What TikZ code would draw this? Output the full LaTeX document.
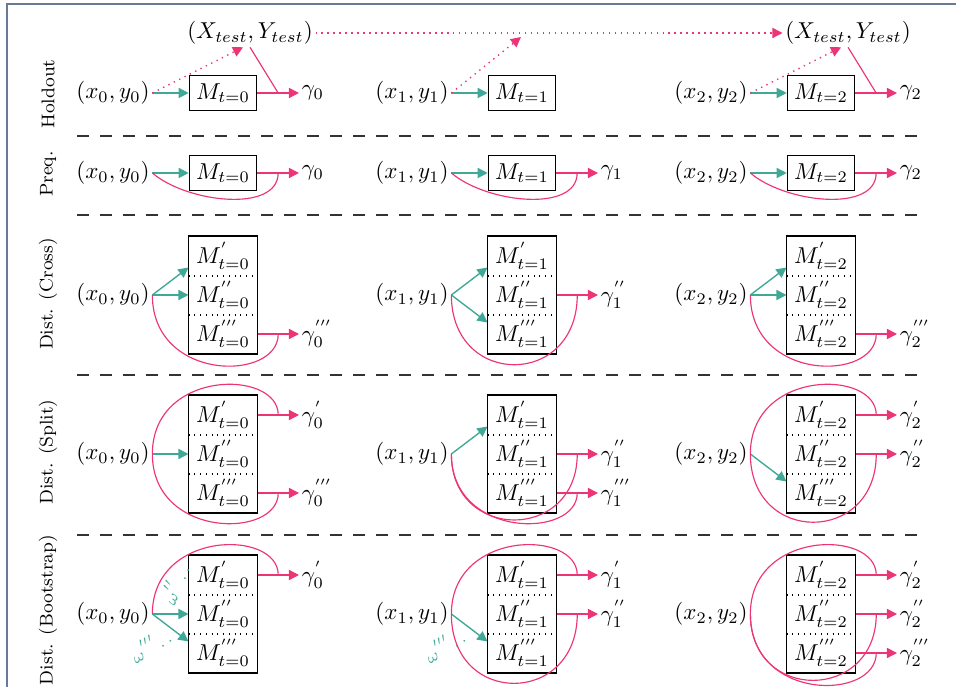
\documentclass[tikz,border=0pt]{standalone}
\usetikzlibrary{arrows.meta,calc}
\definecolor{sampleTeal}{RGB}{64,168,150}
\definecolor{evalPink}{RGB}{236,52,118}
\definecolor{frameSlate}{RGB}{104,122,148}
\tikzset{
  inp/.style={inner sep=1pt},
  mbox/.style={draw, line width=0.5pt, minimum width=1.03cm, minimum height=0.535cm, inner sep=0pt},
  cell/.style={minimum width=1.04cm, minimum height=0.596cm, inner sep=0pt},
  gam/.style={anchor=west, inner sep=1pt},
  feed/.style={-{Triangle[length=4.4pt,width=4.4pt]}, line width=0.6pt, draw=sampleTeal},
  outarr/.style={-{Triangle[length=4.4pt,width=4.4pt]}, line width=0.6pt, draw=evalPink},
  loopc/.style={line width=0.5pt, draw=evalPink},
  testdot/.style={-{Triangle[length=4.4pt,width=4.4pt]}, dotted, line width=0.6pt, draw=evalPink},
  celldiv/.style={dotted, line width=0.5pt},
  rowsep/.style={dash pattern=on 5pt off 5pt, line width=0.7pt, draw=black!80},
  rowlab/.style={rotate=90, font=\footnotesize},
  wlab/.style={text=sampleTeal, font=\scriptsize, inner sep=0pt}
}
\begin{document}
\begin{tikzpicture}[x=0.01528cm,y=-0.01528cm]
  \useasboundingbox (0,0) rectangle (956,687);
  \draw[frameSlate, line width=1.2pt] (7,4) rectangle (1000,730);

  % row labels and separators
  \node[rowlab] (lab-ho) at (48,94) {Holdout};
  \node[rowlab] (lab-pq) at (48,174) {Preq.};
  \node[rowlab] (lab-cr) at (48,294) {Dist. (Cross)};
  \node[rowlab] (lab-sp) at (48,452) {Dist. (Split)};
  \node[rowlab] (lab-bs) at (48,610) {Dist. (Bootstrap)};
  \foreach \y in {136,215,375,535}
    \draw[rowsep] (77,\y) -- (925,\y);

  % holdout and prequential rows
  \foreach \i in {0,1,2} {
    \node[inp] (ho-in\i) at (113+299*\i,93) {$(x_\i, y_\i)$};
    \node[mbox] (ho-m\i) at (223+299*\i,93) {$M_{t=\i}$};
    \draw[feed] (ho-in\i.east) -- (ho-m\i.west);
    \node[inp] (pq-in\i) at (113+299*\i,173) {$(x_\i, y_\i)$};
    \node[mbox] (pq-m\i) at (223+299*\i,173) {$M_{t=\i}$};
    \node[gam] (pq-g\i) at (299+299*\i,173) {$\gamma_\i$};
    \draw[feed] (pq-in\i.east) -- (pq-m\i.west);
    \draw[outarr] (pq-m\i.east) -- coordinate (pq-j\i) (pq-g\i.west);
    \draw[loopc] (pq-in\i.east) .. controls +(35,30) and +(0,40) .. (pq-j\i);
  }
  \node[gam] (ho-g0) at (299,93) {$\gamma_0$};
  \node[gam] (ho-g2) at (897,93) {$\gamma_2$};
  \draw[outarr] (ho-m0.east) -- coordinate (ho-j0) (ho-g0.west);
  \draw[outarr] (ho-m2.east) -- coordinate (ho-j2) (ho-g2.west);
  \node[inp] (ho-t0) at (250,33) {$(X_{test}, Y_{test})$};
  \node[inp] (ho-t2) at (848,33) {$(X_{test}, Y_{test})$};
  \coordinate (ho-hit) at (521,37);
  \draw[testdot] (ho-t0.east) -- (ho-t2.west);
  \draw[testdot] (ho-in0.east) -- ([xshift=-3pt]ho-t0.south);
  \draw[testdot] (ho-in1.east) -- (ho-hit);
  \draw[testdot] (ho-in2.east) -- ([xshift=-3pt]ho-t2.south);
  \draw[loopc] (ho-t0.south) -- (ho-j0);
  \draw[loopc] (ho-t2.south) -- (ho-j2);

  % distributed rows: three sub-models per step
  \foreach \r/\y in {cr/295, sp/454, bs/614} {
    \foreach \i in {0,1,2} {
      \node[inp] (\r-in\i) at (113+299*\i,\y) {$(x_\i, y_\i)$};
      \node[cell] (\r-m\i-1) at (223+299*\i,\y-39) {$M^{'}_{t=\i}$};
      \node[cell] (\r-m\i-2) at (223+299*\i,\y) {$M^{''}_{t=\i}$};
      \node[cell] (\r-m\i-3) at (223+299*\i,\y+39) {$M^{'''}_{t=\i}$};
      \draw[line width=0.5pt] (\r-m\i-1.north west) rectangle (\r-m\i-3.south east);
      \draw[celldiv] (\r-m\i-1.south west) -- (\r-m\i-1.south east);
      \draw[celldiv] (\r-m\i-2.south west) -- (\r-m\i-2.south east);
    }
  }

  % cross
  \node[gam] (cr-g0-3) at (299,334) {$\gamma^{'''}_0$};
  \node[gam] (cr-g1-2) at (598,295) {$\gamma^{''}_1$};
  \node[gam] (cr-g2-3) at (897,334) {$\gamma^{'''}_2$};
  \draw[feed] (cr-in0.east) -- ([yshift=-5pt]cr-m0-1.west);
  \draw[feed] (cr-in0.east) -- (cr-m0-2.west);
  \draw[feed] (cr-in1.east) -- ([yshift=-5pt]cr-m1-1.west);
  \draw[feed] (cr-in1.east) -- ([yshift=5pt]cr-m1-3.west);
  \draw[feed] (cr-in2.east) -- ([yshift=-5pt]cr-m2-1.west);
  \draw[feed] (cr-in2.east) -- (cr-m2-2.west);
  \draw[outarr] (cr-m0-3.east) -- coordinate (cr-j0-3) (cr-g0-3.west);
  \draw[outarr] (cr-m1-2.east) -- coordinate (cr-j1-2) (cr-g1-2.west);
  \draw[outarr] (cr-m2-3.east) -- coordinate (cr-j2-3) (cr-g2-3.west);
  \draw[loopc] (cr-in0.east) .. controls +(0,87) and +(0,48) .. (cr-j0-3);
  \draw[loopc] (cr-in1.east) .. controls +(0,93) and +(0,93) .. (cr-j1-2);
  \draw[loopc] (cr-in2.east) .. controls +(0,87) and +(0,48) .. (cr-j2-3);

  % split
  \node[gam] (sp-g0-1) at (299,415) {$\gamma^{'}_0$};
  \node[gam] (sp-g0-3) at (299,493) {$\gamma^{'''}_0$};
  \node[gam] (sp-g1-2) at (598,454) {$\gamma^{''}_1$};
  \node[gam] (sp-g1-3) at (598,493) {$\gamma^{'''}_1$};
  \node[gam] (sp-g2-1) at (897,415) {$\gamma^{'}_2$};
  \node[gam] (sp-g2-2) at (897,454) {$\gamma^{''}_2$};
  \draw[feed] (sp-in0.east) -- (sp-m0-2.west);
  \draw[feed] (sp-in1.east) -- ([yshift=-5pt]sp-m1-1.west);
  \draw[feed] (sp-in2.east) -- ([yshift=5pt]sp-m2-3.west);
  \draw[outarr] (sp-m0-1.east) -- coordinate (sp-j0-1) (sp-g0-1.west);
  \draw[outarr] (sp-m0-3.east) -- coordinate (sp-j0-3) (sp-g0-3.west);
  \draw[outarr] (sp-m1-2.east) -- coordinate (sp-j1-2) (sp-g1-2.west);
  \draw[outarr] (sp-m1-3.east) -- coordinate (sp-j1-3) (sp-g1-3.west);
  \draw[outarr] (sp-m2-1.east) -- coordinate (sp-j2-1) (sp-g2-1.west);
  \draw[outarr] (sp-m2-2.east) -- coordinate (sp-j2-2) (sp-g2-2.west);
  \draw[loopc] (sp-in0.east) .. controls +(0,-85) and +(0,-46) .. (sp-j0-1);
  \draw[loopc] (sp-in0.east) .. controls +(0,85) and +(0,46) .. (sp-j0-3);
  \draw[loopc] (sp-in1.east) .. controls +(0,88) and +(0,88) .. (sp-j1-2);
  \draw[loopc] (sp-in1.east) .. controls +(0,85) and +(0,46) .. (sp-j1-3);
  \draw[loopc] (sp-in2.east) .. controls +(0,-85) and +(0,-46) .. (sp-j2-1);
  \draw[loopc] (sp-in2.east) .. controls +(0,91) and +(0,91) .. (sp-j2-2);

  % bootstrap
  \node[gam] (bs-g0-1) at (299,575) {$\gamma^{'}_0$};
  \node[gam] (bs-g1-1) at (598,575) {$\gamma^{'}_1$};
  \node[gam] (bs-g1-2) at (598,614) {$\gamma^{''}_1$};
  \node[gam] (bs-g2-1) at (897,575) {$\gamma^{'}_2$};
  \node[gam] (bs-g2-2) at (897,614) {$\gamma^{''}_2$};
  \node[gam] (bs-g2-3) at (897,653) {$\gamma^{'''}_2$};
  \draw[feed] (bs-in0.east) -- (bs-m0-2.west);
  \draw[feed] (bs-in0.east) -- ([yshift=5pt]bs-m0-3.west);
  \draw[feed] (bs-in1.east) -- ([yshift=5pt]bs-m1-3.west);
  \node[wlab, rotate=68] (bs-w0-2) at (174,584) {$\omega^{''}\,.\,.$};
  \node[wlab, rotate=32] (bs-w0-3) at (150,645) {$\omega^{'''}.\,.$};
  \node[wlab, rotate=32] (bs-w1-3) at (444,645) {$\omega^{'''}.\,.$};
  \draw[outarr] (bs-m0-1.east) -- coordinate (bs-j0-1) (bs-g0-1.west);
  \draw[outarr] (bs-m1-1.east) -- coordinate (bs-j1-1) (bs-g1-1.west);
  \draw[outarr] (bs-m1-2.east) -- coordinate (bs-j1-2) (bs-g1-2.west);
  \draw[outarr] (bs-m2-1.east) -- coordinate (bs-j2-1) (bs-g2-1.west);
  \draw[outarr] (bs-m2-2.east) -- coordinate (bs-j2-2) (bs-g2-2.west);
  \draw[outarr] (bs-m2-3.east) -- coordinate (bs-j2-3) (bs-g2-3.west);
  \draw[loopc] (bs-in0.east) .. controls +(0,-84) and +(0,-46) .. (bs-j0-1);
  \draw[loopc] (bs-in1.east) .. controls +(0,-84) and +(0,-46) .. (bs-j1-1);
  \draw[loopc] (bs-in1.east) .. controls +(0,93) and +(0,92) .. (bs-j1-2);
  \draw[loopc] (bs-in2.east) .. controls +(0,-84) and +(0,-46) .. (bs-j2-1);
  \draw[loopc] (bs-in2.east) .. controls +(0,89) and +(0,88) .. (bs-j2-2);
  \draw[loopc] (bs-in2.east) .. controls +(0,88) and +(0,48) .. (bs-j2-3);
\end{tikzpicture}
\end{document}
